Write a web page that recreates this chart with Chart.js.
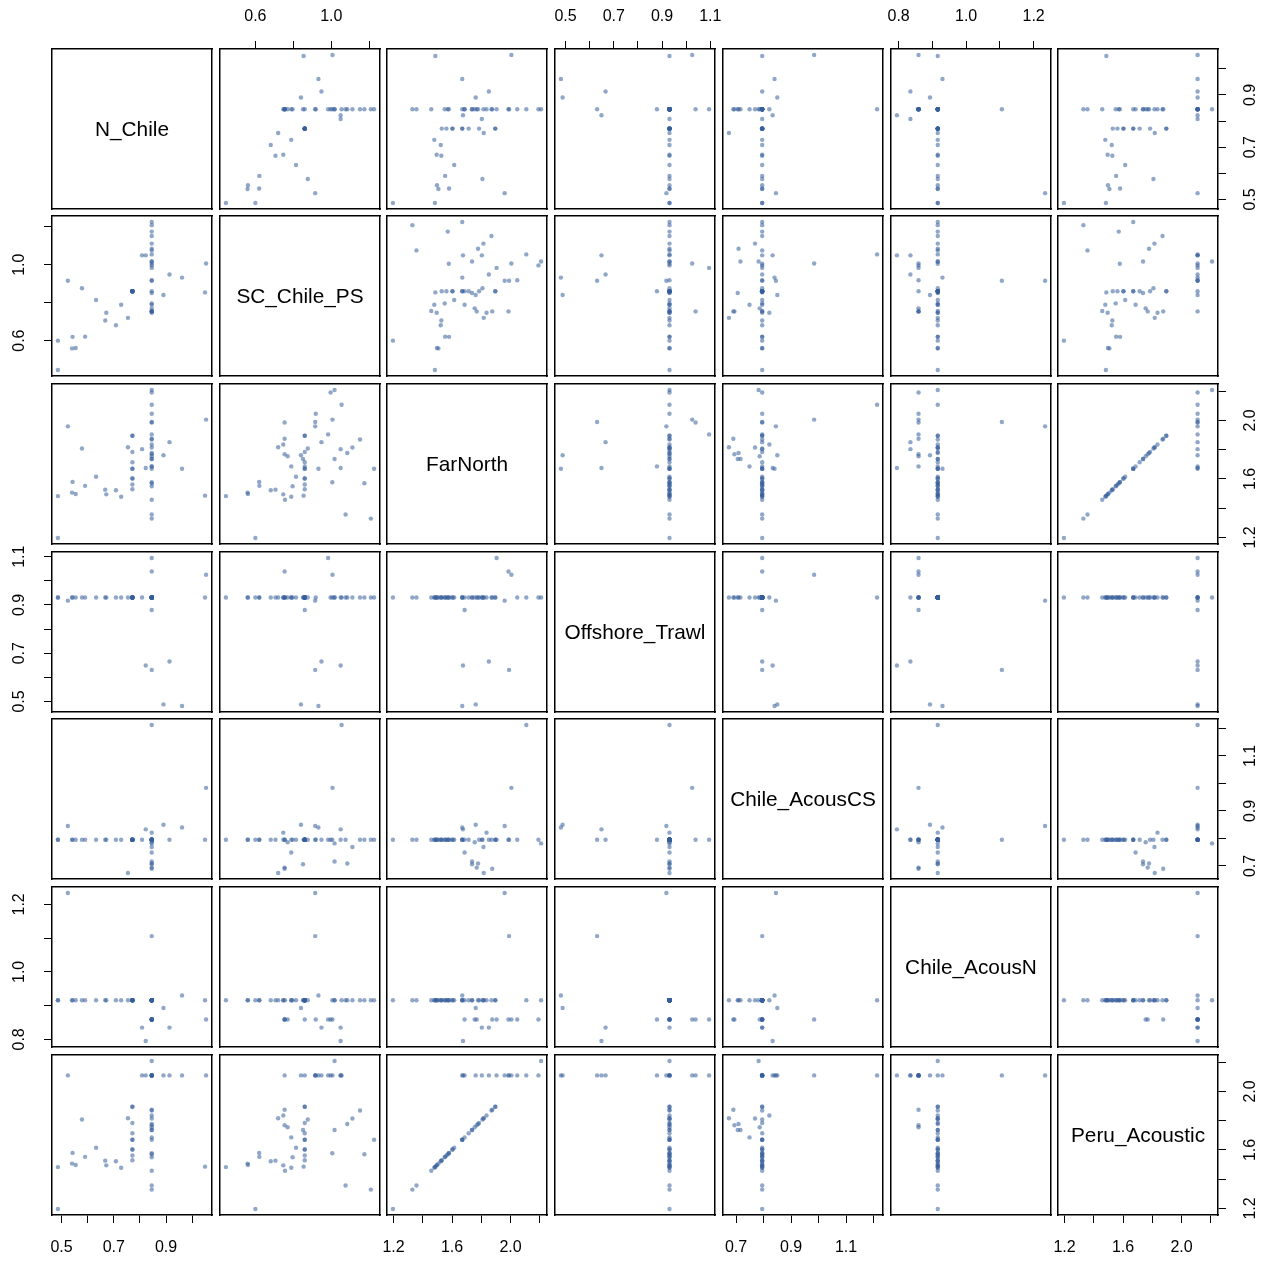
<!DOCTYPE html>
<html><head><meta charset="utf-8">
<script src="https://cdn.jsdelivr.net/npm/chart.js@4.4.1/dist/chart.umd.min.js"></script>
<style>
html,body{margin:0;padding:0;background:#fff;}
#wrap{position:relative;width:1270px;height:1262px;overflow:hidden;background:#fff;}
canvas{position:absolute;}
.lab{position:absolute;display:flex;align-items:center;justify-content:center;font-family:'Liberation Sans',Arial,sans-serif;font-size:20.8px;color:#000;pointer-events:none;}
</style></head><body><div id="wrap"></div>
<script>
// ---------- data (one value per observation) ----------
const varNames = ['N_Chile','SC_Chile_PS','FarNorth','Offshore_Trawl','Chile_AcousCS','Chile_AcousN','Peru_Acoustic'];

const N_Chile = [0.486,0.845,0.845,0.845,0.728,0.486,1.049,0.671,0.554,0.540,
 0.708,0.667,0.771,0.845,0.590,0.771,0.845,0.845,0.542,0.771,
 0.771,0.632,0.845,0.961,0.771,0.771,0.822,0.845,0.845,0.771,
 0.845,0.845,0.845,0.890,0.845,0.845,0.771,0.808,0.578,0.845,
 0.754,0.845,0.913,0.845,0.845,0.771,0.771,0.845,0.524,0.845,
 0.845,1.053,0.845,0.845,0.845,0.845];

const SC_Chile_PS = [0.600,1.208,1.075,0.756,0.789,0.445,0.854,0.747,0.561,0.559,
 0.681,0.706,0.860,0.796,0.621,0.860,1.174,1.005,0.620,0.860,
 0.860,0.814,1.225,0.932,0.860,0.860,1.049,0.860,0.789,0.860,
 1.017,0.851,0.770,0.840,0.754,1.084,0.860,1.049,0.876,1.111,
 0.720,0.747,0.948,1.151,0.754,0.860,0.860,0.983,0.915,0.754,
 0.915,1.006,0.918,1.054,0.996,1.017];

const FarNorth = [1.196,1.329,1.357,1.458,1.479,1.483,1.486,1.495,1.497,1.507,
 1.523,1.527,1.530,1.550,1.553,1.562,1.571,1.578,1.580,1.603,
 1.603,1.615,1.670,1.670,1.670,1.670,1.675,1.686,1.686,1.714,
 1.737,1.737,1.755,1.762,1.769,1.778,1.785,1.804,1.808,1.815,
 1.817,1.836,1.852,1.870,1.875,1.896,1.896,1.905,1.960,1.986,
 1.990,2.006,2.046,2.108,2.191,2.209];

const Offshore_Trawl = [0.931,0.931,0.931,0.931,0.931,0.931,0.931,0.931,0.931,0.931,
 0.931,0.931,0.931,0.931,0.931,0.931,0.931,0.931,0.931,0.931,
 0.931,0.931,0.931,0.481,0.931,0.931,0.649,0.879,0.931,0.931,
 0.931,0.931,0.931,0.488,0.931,0.931,0.931,0.931,0.931,0.931,
 0.931,0.931,0.666,0.931,0.931,0.931,0.931,1.095,0.918,1.039,
 0.631,1.025,0.931,0.931,0.931,0.931];

const Chile_AcousCS = [0.795,0.795,0.795,0.795,0.795,0.795,0.795,0.795,0.795,0.795,
 0.795,0.795,0.795,0.795,0.795,0.795,0.795,0.795,0.795,0.795,
 0.795,0.795,0.795,0.840,0.795,0.795,0.833,0.795,0.749,0.795,
 0.716,0.706,0.786,0.850,0.694,0.709,0.795,0.795,0.795,0.769,
 0.674,0.821,0.795,0.795,0.690,0.795,0.795,0.795,0.845,0.795,
 0.795,0.984,0.795,1.213,0.795,0.782];

const Chile_AcousN = [0.916,0.916,0.916,0.916,0.916,0.916,0.916,0.916,0.916,0.916,
 0.916,0.916,0.916,0.916,0.916,0.916,0.916,0.916,0.916,0.916,
 0.916,0.916,0.916,0.930,0.916,0.916,0.795,0.859,0.916,0.916,
 0.916,0.916,0.859,0.893,0.859,0.916,0.916,0.835,0.916,0.916,
 0.916,0.916,0.835,0.916,0.859,0.916,0.916,0.859,1.234,0.859,
 1.106,0.859,0.859,0.916,0.859,0.916];

const Peru_Acoustic = [1.196,1.329,1.357,1.458,1.479,1.483,1.486,1.495,1.497,1.507,
 1.523,1.527,1.530,1.550,1.553,1.562,1.571,1.578,1.580,1.603,
 1.603,1.615,1.670,2.110,1.670,1.670,2.110,2.110,1.686,1.714,
 1.737,1.737,1.755,2.110,1.769,1.778,1.785,2.110,1.808,1.815,
 1.817,1.836,2.110,1.870,1.875,1.896,1.896,2.110,2.110,2.110,
 2.110,2.110,2.110,2.110,2.110,2.209];

// ---------- tick values and labelled ticks ----------
const N_Chile_ticks = [0.5,0.6,0.7,0.8,0.9,1.0];          const N_Chile_labels = [0.5,0.7,0.9];
const SC_ticks = [0.6,0.8,1.0,1.2];                        const SC_labels = [0.6,1.0];
const FarNorth_ticks = [1.2,1.4,1.6,1.8,2.0,2.2];          const FarNorth_labels = [1.2,1.6,2.0];
const Offshore_ticks = [0.5,0.6,0.7,0.8,0.9,1.0,1.1];      const Offshore_labels = [0.5,0.7,0.9,1.1];
const AcousCS_ticks = [0.7,0.8,0.9,1.0,1.1,1.2];           const AcousCS_labels = [0.7,0.9,1.1];
const AcousN_ticks = [0.8,0.9,1.0,1.1,1.2];                const AcousN_labels = [0.8,1.0,1.2];
const Peru_ticks = [1.2,1.4,1.6,1.8,2.0,2.2];              const Peru_labels = [1.2,1.6,2.0];

// ---------- layout ----------
const vars = [N_Chile, SC_Chile_PS, FarNorth, Offshore_Trawl, Chile_AcousCS, Chile_AcousN, Peru_Acoustic];
const tickSets = [N_Chile_ticks, SC_ticks, FarNorth_ticks, Offshore_ticks, AcousCS_ticks, AcousN_ticks, Peru_ticks];
const labelSets = [N_Chile_labels, SC_labels, FarNorth_labels, Offshore_labels, AcousCS_labels, AcousN_labels, Peru_labels];
const colX = [52, 219.7, 387.4, 555.1, 722.8, 890.5, 1058.2];
const rowY = [48.6, 216.3, 384, 551.7, 719.4, 887.1, 1054.8];
const PW = 160, PH = 160, M = 50;
const POINT_COLOR = 'rgba(55,95,155,0.55)';

Chart.defaults.font.family = "'Liberation Sans', Arial, Helvetica, sans-serif";
Chart.defaults.font.size = 16;
Chart.defaults.color = '#000';

function rangeOf(a){
  const mn = Math.min(...a), mx = Math.max(...a), r = mx - mn;
  return [mn - 0.04*r, mx + 0.04*r];
}
const ranges = vars.map(rangeOf);

function axisCfg(pos, k, show){
  const horiz = (pos === 'top' || pos === 'bottom');
  const [lo, hi] = ranges[k];
  const tv = tickSets[k].filter(v => v >= lo && v <= hi);
  const lb = labelSets[k];
  return {
    type: 'linear', position: pos, axis: horiz ? 'x' : 'y',
    min: lo, max: hi, bounds: 'data',
    afterBuildTicks: s => { s.ticks = tv.map(v => ({value: v})); },
    afterFit: s => { if (horiz) s.height = M; else s.width = M; },
    grid: {display: show, drawOnChartArea: false, drawTicks: show, tickLength: 8,
           color: '#000', tickColor: '#000', lineWidth: 1, tickWidth: 1},
    border: {display: true, color: '#000', width: 1.5},
    ticks: {display: show, autoSkip: false, padding: horiz ? 15 : 13,
            minRotation: horiz ? 0 : 90, maxRotation: horiz ? 0 : 90,
            crossAlign: horiz ? 'near' : 'center', color: '#000', font: {size: 16},
            callback: v => lb.some(l => Math.abs(l - v) < 1e-9) ? v.toFixed(1) : ''}
  };
}

const wrap = document.getElementById('wrap');
const n = vars.length;
for (let i = 0; i < n; i++){
  for (let j = 0; j < n; j++){
    const cv = document.createElement('canvas');
    const left = Math.round(colX[j]) - M, top = Math.round(rowY[i]) - M;
    cv.width = PW + 2*M; cv.height = PH + 2*M;
    cv.style.left = left + 'px'; cv.style.top = top + 'px';
    cv.style.width = (PW + 2*M) + 'px'; cv.style.height = (PH + 2*M) + 'px';
    wrap.appendChild(cv);
    const showBottom = (i === n-1) && (j % 2 === 0);
    const showTop = (i === 0) && (j % 2 === 1);
    const showLeft = (j === 0) && (i % 2 === 1);
    const showRight = (j === n-1) && (i % 2 === 0);
    const data = (i === j) ? [] : vars[j].map((v, k) => ({x: v, y: vars[i][k]}));
    new Chart(cv, {
      type: 'scatter',
      data: {datasets: [{data: data, pointRadius: 2.2, pointBorderWidth: 0,
                         pointBackgroundColor: POINT_COLOR, borderColor: POINT_COLOR}]},
      options: {
        responsive: false, animation: false, events: [], devicePixelRatio: 1,
        layout: {padding: 0},
        plugins: {legend: {display: false}, tooltip: {enabled: false}},
        scales: {
          x: axisCfg('bottom', j, showBottom),
          x2: axisCfg('top', j, showTop),
          y: axisCfg('left', i, showLeft),
          y2: axisCfg('right', i, showRight)
        }
      }
    });
    if (i === j){
      const d = document.createElement('div');
      d.className = 'lab';
      d.style.left = Math.round(colX[j]) + 'px'; d.style.top = Math.round(rowY[i]) + 'px';
      d.style.width = PW + 'px'; d.style.height = PH + 'px';
      d.textContent = varNames[i];
      wrap.appendChild(d);
    }
  }
}
</script>
</body></html>
